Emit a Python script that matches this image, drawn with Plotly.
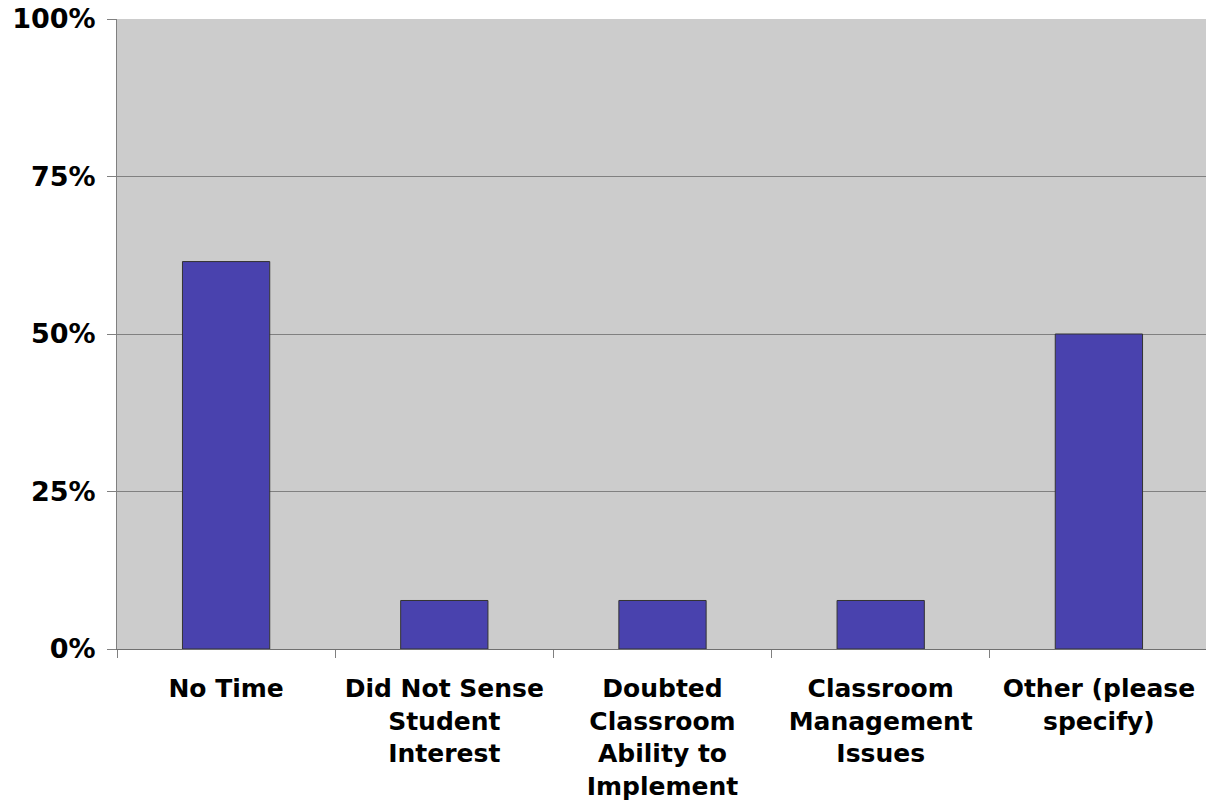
import plotly.graph_objects as go

categories = ["No Time", "Did Not Sense Student Interest", "Doubted Classroom Ability to Implement",
              "Classroom Management Issues", "Other (please specify)"]
tick_labels = ["No Time", "Did Not Sense<br>Student<br>Interest", "Doubted<br>Classroom<br>Ability to<br>Implement",
               "Classroom<br>Management<br>Issues", "Other (please<br>specify)"]
values = [61.5, 7.7, 7.7, 7.7, 50.0]
y_ticks = [0, 25, 50, 75, 100]
y_labels = ["0%", "25%", "50%", "75%", "100%"]

font = dict(family="DejaVu Sans", size=25, color="black")
yfont = dict(family="DejaVu Sans", size=27, color="black")

fig = go.Figure(go.Bar(
    x=categories, y=values, width=0.4,
    marker=dict(color="#4942AE", line=dict(color="#333333", width=1)),
    hoverinfo="skip",
))
fig.update_layout(
    width=1208, height=802,
    margin=dict(l=117, r=0, t=19, b=153),
    paper_bgcolor="white", plot_bgcolor="#CCCCCC",
    showlegend=False,
    font=font,
)
fig.update_xaxes(
    type="category", tickvals=categories, ticktext=[f"<b>{c}</b>" for c in tick_labels],
    tickson="boundaries", ticks="outside", ticklen=8, tickcolor="#808080",
    showline=True, linecolor="#707070", linewidth=1,
    showgrid=False, tickangle=0, ticklabelstandoff=17,
    tickfont=font, automargin=False,
)
fig.update_yaxes(
    tickvals=y_ticks, ticktext=[f"<b>{t}</b>" for t in y_labels], range=[0, 100],
    ticks="outside", ticklen=9, tickcolor="#808080",
    showline=True, linecolor="#808080", linewidth=1,
    showgrid=True, gridcolor="#808080", gridwidth=1,
    zeroline=False, ticklabelstandoff=6, tickfont=yfont, automargin=False,
)
fig.write_html("out.html", config={"displayModeBar": False},
               post_script="document.body.style.margin='0';document.body.style.overflow='hidden';")
